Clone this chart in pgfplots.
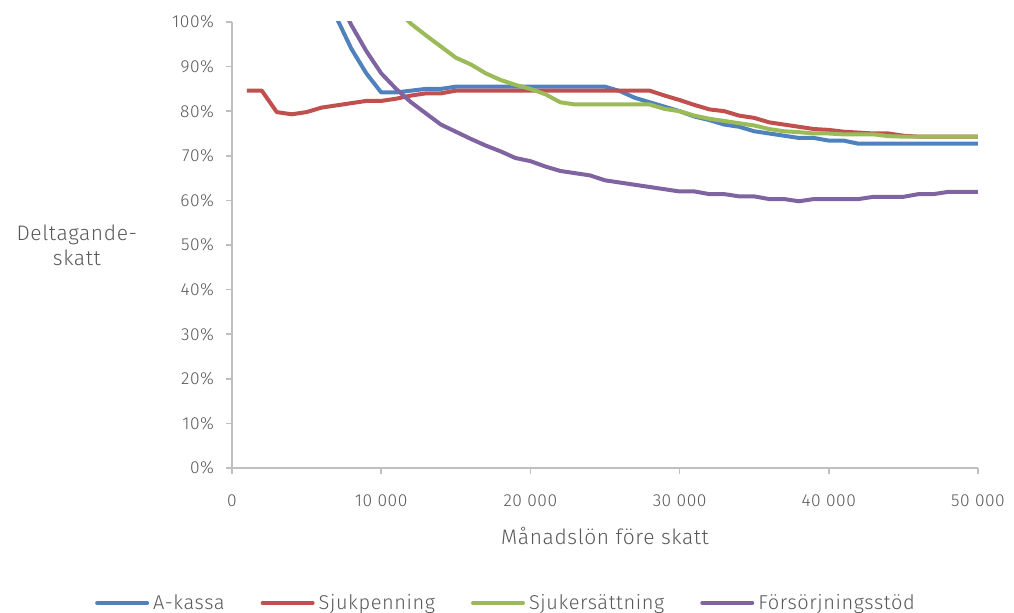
\documentclass[border=0pt]{standalone}
\usepackage{fontspec}
\setmainfont{Fira Sans Light}[LetterSpace=3]
\usepackage{pgfplots}
\pgfplotsset{compat=1.18}
\definecolor{txt}{HTML}{595959}
\definecolor{axc}{HTML}{BFBFBF}
\definecolor{cblue}{HTML}{4F81BD}
\definecolor{cred}{HTML}{C0504D}
\definecolor{cgreen}{HTML}{9BBB59}
\definecolor{cpurple}{HTML}{8064A2}
\begin{document}
\fontsize{8.5}{10}\selectfont
\begin{tikzpicture}
\useasboundingbox (-116pt,-72.5pt) rectangle (391pt,234pt);
\begin{axis}[
  scale only axis, width=373pt, height=223pt,
  xmin=0, xmax=50000, ymin=0, ymax=100,
  axis lines=left, axis line style={-, axc, line width=0.8pt},
  xtick={0,10000,...,50000}, ytick={0,10,...,100},
  tick style={axc, line width=0.8pt}, tick align=outside, major tick length=3pt,
  scaled x ticks=false,
  /pgf/number format/assume math mode=true,
  /pgf/number format/1000 sep={\ },
  yticklabel={\pgfmathprintnumber{\tick}\%},
  ticklabel style={font=\fontsize{8.7}{10}\selectfont, text=txt},
  xticklabel style={yshift=-7.5pt},
  yticklabel style={xshift=-3pt},
  xlabel={Månadslön före skatt}, xlabel style={font=\fontsize{10.5}{12}\selectfont, text=txt, yshift=-4.5pt},
  clip mode=individual,
  legend columns=4,
  legend style={at={(0.3686,-0.3027)}, anchor=center, draw=none, font=\fontsize{10}{12}\selectfont, text=txt,
    /tikz/every even column/.append style={column sep=16pt},
    /tikz/every odd column/.append style={column sep=0pt}},
  legend image code/.code={\draw[#1, line width=2pt, line cap=round] (0pt,0pt) -- (25pt,0pt);},
  every axis plot/.append style={line width=2pt, line join=round},
]
\addplot[cblue] coordinates {
(4000,140)(5000,122)(6000,110)(7000,101)(8000,94)(9000,88.5)(10000,84.2)(11000,84.2)(12000,84.6)(13000,85)(14000,85)(15000,85.5)(16000,85.5)(17000,85.5)(18000,85.5)(19000,85.5)(20000,85.5)(21000,85.5)(22000,85.5)(23000,85.5)(24000,85.5)(25000,85.5)(26000,84.5)(27000,83)(28000,82)(29000,81)(30000,80)(31000,78.8)(32000,78)(33000,77)(34000,76.5)(35000,75.5)(36000,75)(37000,74.5)(38000,74)(39000,74)(40000,73.4)(41000,73.4)(42000,72.7)(43000,72.7)(44000,72.7)(45000,72.7)(46000,72.7)(47000,72.7)(48000,72.7)(49000,72.7)(50000,72.7)};
\addlegendentry{A-kassa}
\addplot[cred] coordinates {
(1000,84.6)(2000,84.6)(3000,79.8)(4000,79.3)(5000,79.8)(6000,80.8)(7000,81.3)(8000,81.8)(9000,82.3)(10000,82.3)(11000,82.8)(12000,83.5)(13000,84)(14000,84)(15000,84.6)(16000,84.6)(17000,84.6)(18000,84.6)(19000,84.6)(20000,84.6)(21000,84.6)(22000,84.6)(23000,84.6)(24000,84.6)(25000,84.6)(26000,84.6)(27000,84.6)(28000,84.6)(29000,83.5)(30000,82.5)(31000,81.4)(32000,80.4)(33000,80)(34000,79)(35000,78.5)(36000,77.5)(37000,77)(38000,76.5)(39000,76)(40000,75.8)(41000,75.4)(42000,75.2)(43000,75)(44000,75)(45000,74.5)(46000,74.3)(47000,74.3)(48000,74.3)(49000,74.3)(50000,74.3)};
\addlegendentry{Sjukpenning}
\addplot[cgreen] coordinates {
(10000,106)(11000,103)(12000,99.6)(13000,97)(14000,94.5)(15000,92)(16000,90.5)(17000,88.5)(18000,87)(19000,85.9)(20000,85)(21000,83.8)(22000,82)(23000,81.5)(24000,81.5)(25000,81.5)(26000,81.5)(27000,81.5)(28000,81.5)(29000,80.5)(30000,80)(31000,79)(32000,78.3)(33000,77.8)(34000,77.3)(35000,76.8)(36000,76)(37000,75.5)(38000,75.3)(39000,75)(40000,75)(41000,74.8)(42000,74.8)(43000,74.8)(44000,74.4)(45000,74.3)(46000,74.3)(47000,74.3)(48000,74.3)(49000,74.3)(50000,74.3)};
\addlegendentry{Sjukersättning}
\addplot[cpurple] coordinates {
(6000,115)(7000,106)(8000,99.3)(9000,93.5)(10000,88.5)(11000,85)(12000,82)(13000,79.5)(14000,77)(15000,75.4)(16000,73.8)(17000,72.3)(18000,71)(19000,69.5)(20000,68.8)(21000,67.6)(22000,66.6)(23000,66.1)(24000,65.6)(25000,64.5)(26000,64)(27000,63.5)(28000,63)(29000,62.5)(30000,62)(31000,62)(32000,61.4)(33000,61.4)(34000,60.9)(35000,60.9)(36000,60.3)(37000,60.3)(38000,59.8)(39000,60.3)(40000,60.3)(41000,60.3)(42000,60.3)(43000,60.8)(44000,60.8)(45000,60.8)(46000,61.4)(47000,61.4)(48000,61.9)(49000,61.9)(50000,61.9)};
\addlegendentry{Försörjningsstöd}
\node[text=txt, font=\fontsize{10.5}{12.5}\selectfont, align=center] at (rel axis cs:-0.208,0.5) {Deltagande-\\skatt};
\end{axis}
\end{tikzpicture}
\end{document}
